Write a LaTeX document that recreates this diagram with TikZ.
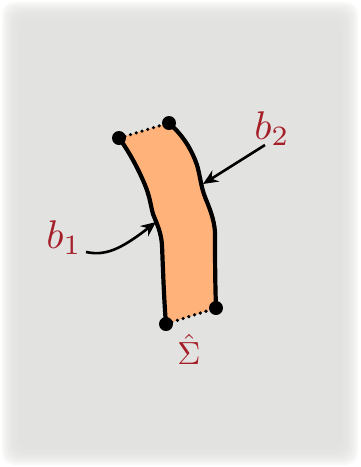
\documentclass[tikz,border=0pt]{standalone}
\usetikzlibrary{arrows.meta}
\definecolor{bggray}{RGB}{226,226,224}
\definecolor{fillorange}{RGB}{255,178,122}
\definecolor{labred}{RGB}{165,30,40}
\tikzset{
  outline/.style={line width=4.2pt, line join=round, line cap=round},
  gapline/.style={line width=3.6pt, line cap=round, dash pattern=on 0pt off 6pt},
  corner/.style={circle, fill=black, inner sep=0pt, minimum size=14pt},
  pointer/.style={line width=2.6pt, -{Stealth[length=15pt,width=13pt]}},
  lab/.style={text=labred, inner sep=0pt}
}
\begin{document}
\begin{tikzpicture}[x=1pt,y=-1pt]
\useasboundingbox (0,0) rectangle (360,467);
\fill[white] (0,0) rectangle (360,467);
\foreach \i in {0,...,11}{
  \fill[bggray, opacity=0.2, rounded corners=12pt] (2+1.7*\i,2+1.7*\i) rectangle (358-1.7*\i,465-1.7*\i);
}
% strip shape
\coordinate (tl) at (119,138);
\coordinate (tr) at (169,123);
\coordinate (br) at (216,308);
\coordinate (bl) at (166,324);
\fill[fillorange] (tl) .. controls (128,150) and (138,168) .. (145,185)
  .. controls (150,197) and (151,207) .. (153,214)
  .. controls (157,224) and (161,232) .. (162,245)
  .. controls (163,270) and (164,300) .. (bl)
  -- (br)
  .. controls (215,280) and (215,250) .. (215,232)
  .. controls (214,218) and (209,207) .. (205,197)
  .. controls (201,187) and (200,175) .. (197,165)
  .. controls (190,145) and (180,133) .. (tr) -- cycle;
\draw[outline] (tl) .. controls (128,150) and (138,168) .. (145,185)
  .. controls (150,197) and (151,207) .. (153,214)
  .. controls (157,224) and (161,232) .. (162,245)
  .. controls (163,270) and (164,300) .. (bl);
\draw[outline] (br) .. controls (215,280) and (215,250) .. (215,232)
  .. controls (214,218) and (209,207) .. (205,197)
  .. controls (201,187) and (200,175) .. (197,165)
  .. controls (190,145) and (180,133) .. (tr);
\draw[gapline] (tl) -- (tr);
\draw[gapline] (bl) -- (br);
\node[corner] (ntl) at (tl) {};
\node[corner] (ntr) at (tr) {};
\node[corner] (nbl) at (bl) {};
\node[corner] (nbr) at (br) {};
% labels
\node[lab, scale=4] (b1) at (64,238) {$b_1$};
\node[lab, scale=4] (b2) at (272,129) {$b_2$};
\node[lab, scale=3.2] (sig) at (189,349) {$\hat\Sigma$};
\coordinate (b1tip) at (156,222);
\coordinate (b2tip) at (203,184);
\coordinate (b1s) at (86,252);
\coordinate (b2s) at (265,145);
\draw[pointer] (b1s) .. controls (105,256) and (120,250) .. (b1tip);
\draw[pointer] (b2s) -- (b2tip);
\end{tikzpicture}
\end{document}
